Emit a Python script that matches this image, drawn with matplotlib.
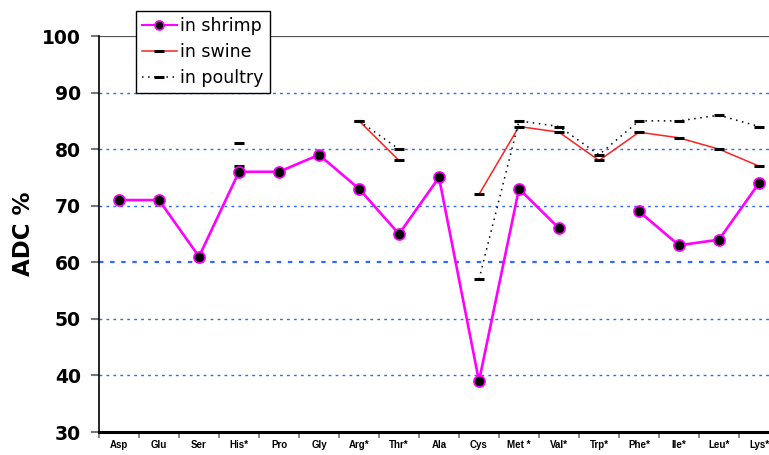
import matplotlib
matplotlib.use('Agg')
import matplotlib.pyplot as plt
import numpy as np

nan = np.nan

# amino acids on the x axis
amino = ['Asp', 'Glu', 'Ser', 'His*', 'Pro', 'Gly', 'Arg*', 'Thr*', 'Ala', 'Cys',
         'Met *', 'Val*', 'Trp*', 'Phe*', 'Ile*', 'Leu*', 'Lys*']

# apparent digestibility coefficients (%)
shrimp = [71, 71, 61, 76, 76, 79, 73, 65, 75, 39, 73, 66, nan, 69, 63, 64, 74]
swine = [nan, nan, nan, 77, nan, nan, 85, 78, nan, 72, 84, 83, 78, 83, 82, 80, 77]
poultry = [nan, nan, nan, 81, nan, nan, 85, 80, nan, 57, 85, 84, 79, 85, 85, 86, 84]

plt.rcParams['font.family'] = ['DejaVu Sans']

fig = plt.figure(figsize=(7.69, 4.55), dpi=100)
ax = fig.add_axes([99 / 769, 1 - 432 / 455, 680 / 769, 396 / 455])

x = np.arange(len(amino))

# grid lines
for v in [40, 50, 60, 70, 80, 90]:
    lw = 1.6 if v == 60 else 1.0
    ax.axhline(v, color='#3366ff', linestyle=(0, (2, 3)), linewidth=lw, zorder=1)
ax.axhline(100, color='#555555', linewidth=1.6, zorder=1)

ax.plot(x, shrimp, color='#ff00ff', linewidth=1.9, marker='o', markersize=8,
        markerfacecolor='black', markeredgecolor='#ff00ff', markeredgewidth=1.2,
        label='in shrimp', zorder=4)
ax.plot(x, swine, color='#ff2020', linewidth=1.1, marker='_', markersize=6.5,
        markeredgecolor='black', markeredgewidth=2.2, label='in swine', zorder=3)
ax.plot(x, poultry, color='black', linewidth=1.1, linestyle=(0, (1, 3)), marker='_',
        markersize=7, markeredgecolor='black', markeredgewidth=2.2,
        label='in poultry', zorder=3)

ax.set_xlim(-0.5, len(amino) - 0.5)
ax.set_ylim(30, 100)
ax.set_yticks(range(30, 101, 10))
ax.set_yticklabels([str(v) for v in range(30, 101, 10)], fontsize=13.5, fontweight='bold')
ax.set_ylabel('ADC %', fontsize=16.5, fontweight='bold', labelpad=5)

ax.set_xticks(x)
ax.set_xticklabels(amino, fontsize=7, fontweight='bold', family='Liberation Sans')
ax.set_xticks(np.arange(-0.5, len(amino), 1), minor=True)
ax.tick_params(axis='x', which='major', length=0, pad=6)
ax.tick_params(axis='x', which='minor', length=4, width=1.2, color='#777777', direction='out')
ax.tick_params(axis='y', length=6, width=1.5, color='#777777', direction='out', pad=7)

for s in ['top', 'right']:
    ax.spines[s].set_visible(False)
ax.spines['bottom'].set_linewidth(2.2)
ax.spines['left'].set_linewidth(1.2)

leg = ax.legend(loc='upper left', bbox_to_anchor=(136 / 769, 1 - 11 / 455),
                bbox_transform=fig.transFigure, fontsize=12.5, frameon=True,
                fancybox=False, edgecolor='black', framealpha=1, handlelength=2.0,
                borderpad=0.35, labelspacing=0.45, handletextpad=0.2, borderaxespad=0)
leg.get_frame().set_linewidth(1.0)
leg.set_zorder(10)
leg.legend_handles[0].set_markersize(6.5)
leg.legend_handles[0].set_linewidth(1.5)

fig.savefig('out.png', dpi=100)
